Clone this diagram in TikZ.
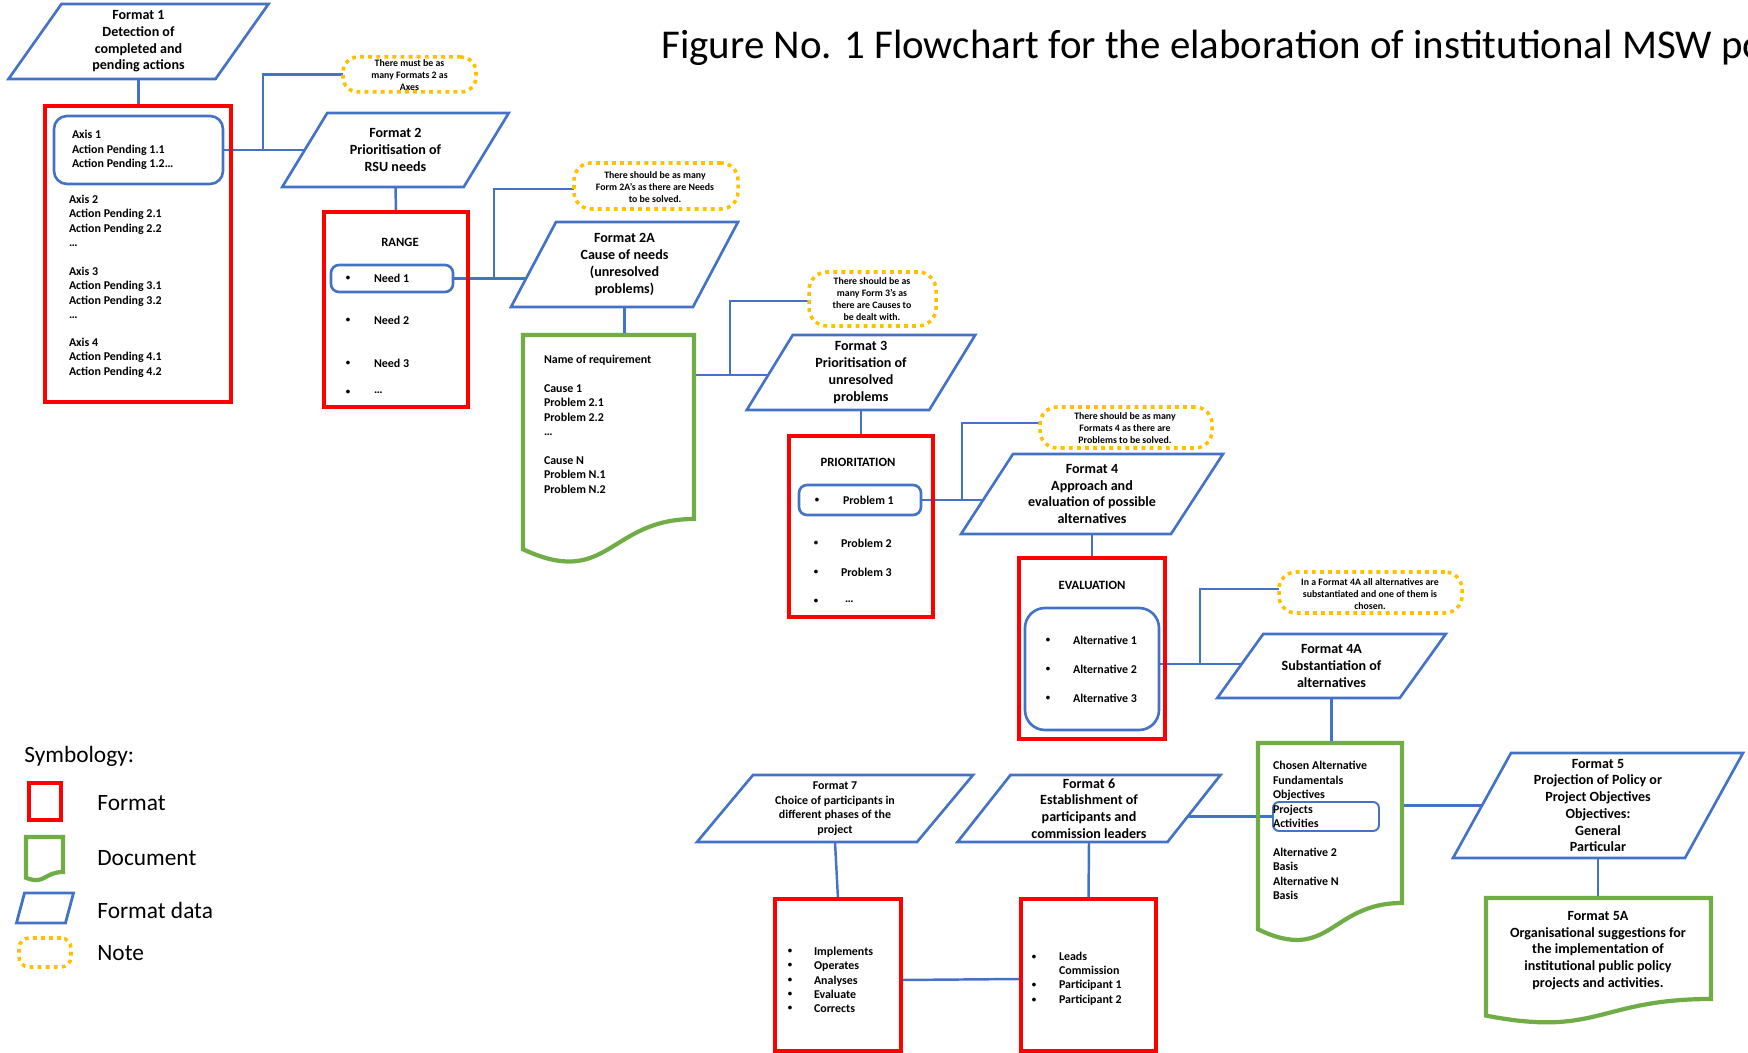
\documentclass[tikz,border=0pt]{standalone}
\usepackage{fontspec}
\setmainfont{Carlito}
\usetikzlibrary{calc}
\definecolor{bl}{HTML}{4472C4}
\definecolor{rd}{HTML}{FF0000}
\definecolor{gr}{HTML}{70AD47}
\definecolor{yl}{HTML}{FFC000}
\pgfdeclarelayer{back}
\pgfdeclarelayer{conn}
\pgfdeclarelayer{shape}
\pgfsetlayers{back,conn,shape,main}
\tikzset{
  big/.style={font=\bfseries\fontsize{8}{9.5}\selectfont},
  sm/.style={font=\bfseries\fontsize{6.8}{8.2}\selectfont},
  hd/.style={font=\bfseries\fontsize{7.2}{8.6}\selectfont},
  tn/.style={font=\bfseries\fontsize{5.6}{6.8}\selectfont, align=center, inner sep=0pt},
  leg/.style={font=\fontsize{13.3}{16}\selectfont, inner sep=0pt, anchor=west},
  txt/.style={inner sep=0pt, outer sep=0pt, align=left, anchor=west},
  sz/.style 2 args={minimum width=#1*0.02cm, minimum height=#2*0.02cm},
  pgnode/.style 2 args={sz={#1}{#2}, inner sep=0pt, outer sep=0pt, align=center, big},
  pgline/.style={draw=bl, fill=white},
  redbox/.style 2 args={sz={#1}{#2}, draw=rd, line width=2.4pt, inner sep=0pt, outer sep=0pt},
  bluebox/.style n args={3}{sz={#1}{#2}, draw=bl, line width=1.5pt, rounded corners=#3, inner sep=0pt, outer sep=0pt},
  notebox/.style n args={3}{sz={#1}{#2}, draw=yl, line width=2pt, dash pattern=on 2.2pt off 2.4pt, rounded corners=#3, inner sep=0pt, outer sep=0pt},
  docnode/.style 2 args={sz={#1}{#2}, inner sep=0pt, outer sep=0pt, anchor=north west},
  docline/.style={draw=gr, line width=2.4pt},
  conn/.style={draw=bl, line width=1.4pt},
  bul/.style={font=\bfseries\fontsize{5}{8.2}\selectfont, inner sep=0pt, align=center},
}
\newcommand\pgm[3][1.5pt]{\begin{pgfonlayer}{shape}\draw[pgline, line width=#1] ($(#2.south west)+(-#3,0)$) -- ($(#2.south east)+(-#3,0)$) -- ($(#2.north east)+(#3,0)$) -- ($(#2.north west)+(#3,0)$) -- cycle;\end{pgfonlayer}}
\newcommand\docpath[3]{\draw[docline] (#1.north west) -- (#1.north east) -- (#1.south east) .. controls (#1.south) and ($(#1.south)+(0,#3)$) .. ($(#1.south west)+(0,#2)$) -- cycle;}
\begin{document}
\begin{tikzpicture}[x=0.02cm, y=-0.02cm]
\useasboundingbox (0,0) rectangle (1748,1053);
\begin{pgfonlayer}{back}
\fill[white] (0,0) rectangle (1748,1053);
\end{pgfonlayer}
\clip (0,0) rectangle (1748,1053);

% Title
\node[anchor=base west, inner sep=0pt, font=\fontsize{23.3}{28}\selectfont] (title) at (661,59) {Figure No. 1 Flowchart for the elaboration of institutional MSW po};

% Format 1 and axes
\node[pgnode={207}{75}] (f1) at (138.5,41.5) {Format 1\\Detection of\\completed and\\pending actions};
\pgm{f1}{26.5}
\node[redbox={186}{296}] (r1) at (138,254) {};
\node[bluebox={169}{68}{0.26cm}] (a1) at (138.5,150) {};
\node[txt, sm] (ta1) at (72,150) {Axis 1\\Action Pending 1.1\\Action Pending 1.2…};
\node[txt, sm] (ta2) at (69,221) {Axis 2\\Action Pending 2.1\\Action Pending 2.2\\…};
\node[txt, sm] (ta3) at (69,293) {Axis 3\\Action Pending 3.1\\Action Pending 3.2\\…};
\node[txt, sm] (ta4) at (69,357.5) {Axis 4\\Action Pending 4.1\\Action Pending 4.2};

% Format 2
\node[pgnode={181.5}{74}] (f2) at (395.5,150) {Format 2\\Prioritisation of\\RSU needs};
\pgm{f2}{22.5}
\node[notebox={133}{35}{0.3cm}] (n1) at (409.5,74.5) {};
\node[tn] (tn1) at (409.5,75) {There must be as\\many Formats 2 as\\Axes};

% Range box
\node[redbox={144}{195}] (r2) at (396,309.5) {};
\node[hd] (rg) at (400,242) {RANGE};
\node[bluebox={122}{27}{0.16cm}] (nb1) at (392,278.5) {};
\node[bul] (b21) at (348,278) {\textbullet};
\node[bul] (b22) at (348,320) {\textbullet};
\node[bul] (b23) at (348,363) {\textbullet};
\node[bul] (b24) at (348,392) {\textbullet};
\node[txt, sm] (nd1) at (374,278) {Need 1};
\node[txt, sm] (nd2) at (374,320) {Need 2};
\node[txt, sm] (nd3) at (374,363) {Need 3};
\node[txt, sm] (nd4) at (374,393) {…};

% Format 2A
\node[pgnode={182}{85}] (f2a) at (624.5,264.5) {Format 2A\\Cause of needs\\(unresolved\\problems)};
\pgm{f2a}{22.5}
\node[notebox={164}{46}{0.34cm}] (n2) at (656,186) {};
\node[tn] (tn2) at (655,187) {There should be as many\\Form 2A's as there are Needs\\to be solved.};

% Document 1
\node[docnode={171}{184}] (d1) at (523,335) {};
\docpath{d1}{30.3}{70.1}
\node[txt, sm] (td1) at (544,424.25) {Name of requirement\\[8.2pt]Cause 1\\Problem 2.1\\Problem 2.2\\…\\[8.2pt]Cause N\\Problem N.1\\Problem N.2};

% Format 3
\node[pgnode={182.5}{75}] (f3) at (861,372.5) {Format 3\\Prioritisation of\\unresolved\\problems};
\pgm{f3}{23}
\node[notebox={127}{54}{0.36cm}] (n3) at (872.5,299) {};
\node[tn] (tn3) at (872,299) {There should be as\\many Form 3's as\\there are Causes to\\be dealt with.};

% Prioritation box
\node[redbox={144}{181}] (r3) at (861,526.5) {};
\node[hd] (pr) at (858,462) {PRIORITATION};
\node[bluebox={122}{30}{0.16cm}] (p1) at (860,500) {};
\node[bul] (b31) at (817,500) {\textbullet};
\node[bul] (b32) at (816,543) {\textbullet};
\node[bul] (b33) at (816,572) {\textbullet};
\node[bul] (b34) at (816,601) {\textbullet};
\node[txt, sm] (pb1) at (843,500) {Problem 1};
\node[txt, sm] (pb2) at (841,543) {Problem 2};
\node[txt, sm] (pb3) at (841,572) {Problem 3};
\node[txt, sm] (pb4) at (845,602) {…};

% Format 4
\node[pgnode={210}{80}] (f4) at (1092,494) {Format 4\\Approach and\\evaluation of possible\\alternatives};
\pgm{f4}{26}
\node[notebox={172}{41}{0.34cm}] (n4) at (1126,427.5) {};
\node[tn] (tn4) at (1125,428) {There should be as many\\Formats 4 as there are\\Problems to be solved.};

% Evaluation box
\node[redbox={146}{181}] (r4) at (1092,648.5) {};
\node[hd] (ev) at (1092,585) {EVALUATION};
\node[bluebox={134}{122}{0.4cm}] (alt) at (1092,669) {};
\node[bul] (b41) at (1048,640) {\textbullet};
\node[bul] (b42) at (1048,669) {\textbullet};
\node[bul] (b43) at (1048,698) {\textbullet};
\node[txt, sm] (al1) at (1073,640) {Alternative 1};
\node[txt, sm] (al2) at (1073,669) {Alternative 2};
\node[txt, sm] (al3) at (1073,698) {Alternative 3};

% Format 4A
\node[pgnode={182.5}{64}] (f4a) at (1331.5,666) {Format 4A\\Substantiation of\\alternatives};
\pgm{f4a}{23}
\node[notebox={183}{41}{0.34cm}] (n5) at (1370.5,592.5) {};
\node[tn] (tn5) at (1370,594) {In a Format 4A all alternatives are\\substantiated and one of them is\\chosen.};

% Document 2
\node[docnode={144}{160}] (d2) at (1258,743) {};
\docpath{d2}{26.3}{61}
\node[bluebox={106}{29}{0.12cm}, line width=1.1pt] (pj) at (1326,816.5) {};
\node[txt, sm] (td2) at (1273,830.5) {Chosen Alternative\\Fundamentals\\Objectives\\Projects\\Activities\\[8.2pt]Alternative 2\\Basis\\Alternative N\\Basis};

% Format 5
\node[pgnode={232}{105}] (f5) at (1598,805.5) {Format 5\\Projection of Policy or\\Project Objectives\\Objectives:\\General\\Particular};
\pgm{f5}{29}

% Document 3
\node[docnode={225}{101}] (d3) at (1486,898) {};
\docpath{d3}{16.6}{38.5}
\node[big, align=center, inner sep=0pt] (td3) at (1598,950.5) {Format 5A\\Organisational suggestions for\\the implementation of\\institutional public policy\\projects and activities.};

% Format 6 and 7
\node[pgnode={210}{67}] (f6) at (1089,808.5) {Format 6\\Establishment of\\participants and\\commission leaders};
\pgm{f6}{26.5}
\node[pgnode={220}{67}, font=\bfseries\fontsize{6.8}{8.3}\selectfont] (f7) at (835,808.5) {Format 7\\Choice of participants in\\different phases of the\\project};
\pgm{f7}{28}

\node[redbox={126}{152}] (r5) at (838,975) {};
\node[redbox={135}{152}] (r6) at (1088.5,975) {};
\node[bul] (b5) at (790,980) {\textbullet\\\textbullet\\\textbullet\\\textbullet\\\textbullet};
\node[txt, sm] (t5) at (814,980) {Implements\\Operates\\Analyses\\Evaluate\\Corrects};
\node[bul] (b6) at (1034,978.5) {\textbullet\\[8.2pt]\textbullet\\\textbullet};
\node[txt, sm] (t6) at (1059,978.5) {Leads\\Commission\\Participant 1\\Participant 2};

% Legend
\node[leg] (sym) at (24,756) {Symbology:};
\node[redbox={32}{37}] (lr) at (45,801.5) {};
\node[leg] (lrt) at (97,803) {Format};
\node[docnode={37}{35}] (ld) at (26,837) {};
\docpath{ld}{5.8}{13.3}
\node[leg] (ldt) at (97,858) {Document};
\node[pgnode={49}{30}] (lp) at (45,908) {};
\pgm[1.6pt]{lp}{4}
\node[leg] (lpt) at (97,910) {Format data};
\node[notebox={52}{29}{0.2cm}] (ln) at (45,952.5) {};
\node[leg] (lnt) at (97,953) {Note};

% Connectors
\coordinate (j1) at (263,150);
\coordinate (j2) at (494,278.5);
\coordinate (j3) at (730,375);
\coordinate (j4) at (962,500);
\coordinate (j5) at (1200,664);
\begin{pgfonlayer}{conn}
\draw[conn] (f1.south) -- (f1.south |- r1.north);
\draw[conn] (a1.east) -- (a1.east -| f2.center);
\draw[conn] (j1) |- (n1.west);
\draw[conn] (f2.south) -- (r2.north);
\draw[conn] (nb1.east) -- (nb1.east -| f2a.center);
\draw[conn] (j2) |- ($(n2.west)+(0,3)$);
\draw[conn] (f2a.south) -- (f2a.south |- d1.north);
\draw[conn] (j3 -| d1.east) -- (j3 -| f3.center);
\draw[conn] (j3) |- ($(n3.west)+(0,2)$);
\draw[conn] (f3.south) -- (f3.south |- r3.north);
\draw[conn] (p1.east) -- (p1.east -| f4.center);
\draw[conn] (j4) |- ($(n4.west)+(0,-4.5)$);
\draw[conn] (f4.south) -- (f4.south |- r4.north);
\draw[conn] (alt.east |- j5) -- (j5 -| f4a.center);
\draw[conn] (j5) |- ($(n5.west)+(0,-3.5)$);
\draw[conn] (f4a.south) -- (f4a.south |- d2.north);
\draw[conn] (d2.east |- f5.west) -- (f5.center);
\draw[conn] (f5.south) -- (f5.south |- d3.north);
\draw[conn] (f6.center |- pj.west) -- (pj.west);
\draw[conn] (f7.south) -- (r5.north);
\draw[conn] (f6.south) -- (r6.north);
\draw[conn] ($(r5.east)+(0,5)$) -- ($(r6.west)+(0,4)$);
\end{pgfonlayer}
\end{tikzpicture}
\end{document}
